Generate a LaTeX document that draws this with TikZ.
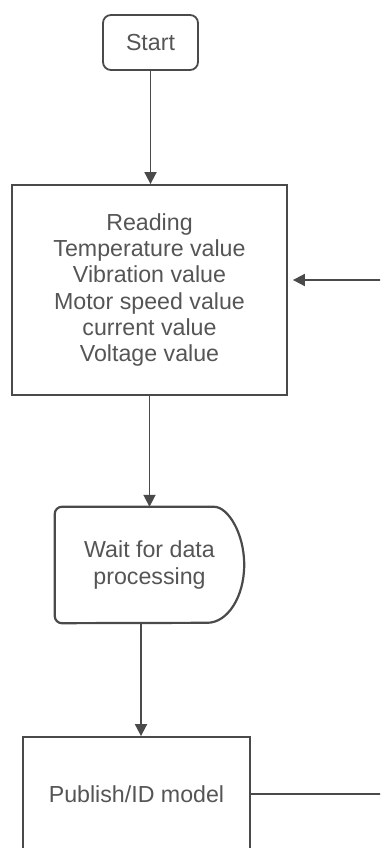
\documentclass[tikz,border=0pt]{standalone}
\usepackage{fontspec}
\setmainfont{Liberation Sans}
\usetikzlibrary{arrows.meta, positioning}
\definecolor{ink}{HTML}{555555}
\definecolor{edge}{HTML}{4A4A4A}

\begin{document}
\begin{tikzpicture}[x=1pt, y=1pt,
    font=\fontsize{23.2}{26.2}\selectfont, text=ink,
    box/.style={draw=edge, line width=1.8pt, align=center, inner sep=0pt},
    arr/.style={draw=edge, line width=1.8pt, -{Triangle[length=12pt, width=12pt]}}]
  \useasboundingbox (0,0) rectangle (380,-848);
  \clip (0,0) rectangle (380,-848);
  % main column
  \node[box, rounded corners=8pt, minimum width=95pt, minimum height=55pt] (start) at (150.5,-42.5) {Start};
  \node[box, minimum width=275pt, minimum height=210pt] (reading) at (149.5,-290)
    {Reading\\Temperature value\\Vibration value\\Motor speed value\\current value\\Voltage value};
  \node[align=center, minimum width=189pt, minimum height=116pt, inner sep=0pt] (wait) at (149.5,-565)
    {Wait for data\\processing};
  \node[box, minimum width=227pt, minimum height=114pt] (publish) at (136.5,-794) {Publish/ID model};
  % delay outline round the wait node
  \draw[edge, line width=2.2pt] ([xshift=-37pt]wait.north east)
    arc[start angle=90, end angle=-90, x radius=37pt, y radius=58pt]
    [rounded corners=7pt] -- (wait.south west) -- (wait.north west) -- cycle;
  % arrows down the column
  \draw[arr] (start.south) -- (start.south |- reading.north);
  \draw[arr] (reading) -- (wait);
  \draw[arr] ([xshift=-8.5pt]wait.south) -- ([xshift=-8.5pt]wait.south |- publish.north);
  % loop back along the right edge
  \coordinate (turn) at (390,-794);
  \draw[arr, shorten >=5pt] (publish.east) -- (turn) |- ([yshift=10pt]reading.east);
\end{tikzpicture}
\end{document}
